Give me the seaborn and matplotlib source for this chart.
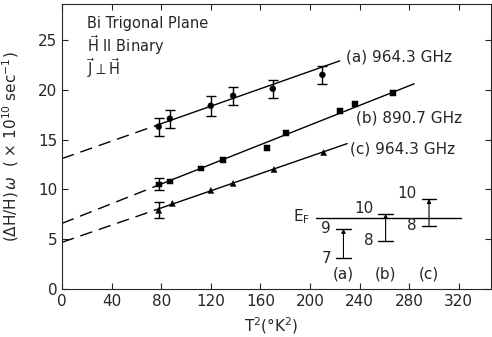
import matplotlib.pyplot as plt
import numpy as np
import pandas as pd
import seaborn as sns

# данные
a_x = [78, 87, 120, 138, 170, 210]
a_y = [16.3, 17.1, 18.4, 19.4, 20.1, 21.5]
a_err = [0.9, 0.9, 1.0, 0.9, 0.9, 0.9]

b_x = [78, 87, 112, 130, 165, 181, 224, 236, 267]
b_y = [10.5, 10.8, 12.1, 13.0, 14.2, 15.7, 17.9, 18.6, 19.7]
b_err = [0.6, 0, 0, 0, 0, 0, 0, 0, 0]

c_x = [78, 89, 120, 138, 171, 211]
c_y = [7.9, 8.6, 9.9, 10.6, 12.0, 13.7]
c_err = [0.8, 0, 0, 0, 0, 0]

# подогнанные прямые: (x начала, x конца штриховой части, x конца, y в 0, y в конце)
fit_a = (0, 76, 224, 13.1, 22.9)
fit_b = (0, 76, 284, 6.6, 20.6)
fit_c = (0, 76, 230, 4.7, 14.6)

labels = ['(a) 964.3 GHz', '(b) 890.7 GHz', '(c) 964.3 GHz']
label_pos = [(229, 23.3), (237, 17.2), (232, 14.1)]

# энергетическая схема
ef_level = 7.15
trans_x = [227, 261, 296]
trans_lo = [3.1, 4.85, 6.35]
trans_hi = [6.05, 7.55, 9.05]
lo_names = ['7', '8', '8']
hi_names = ['9', '10', '10']
trans_names = ['(a)', '(b)', '(c)']

sns.set_theme(style='ticks')
plt.rcParams['font.family'] = ['DejaVu Sans']

fig = plt.figure(figsize=(4.92, 3.37), dpi=100)
ax = fig.add_axes([0.126, 0.142, 0.872, 0.846])

for fit in [fit_a, fit_b, fit_c]:
    x0, xd, x1, y0, y1 = fit
    k = (y1 - y0) / (x1 - x0)
    ax.plot([x0, xd], [y0, y0 + k * xd], color='black', lw=1, dashes=(9, 5))
    ax.plot([xd, x1], [y0 + k * xd, y1], color='black', lw=1)

df = pd.concat([
    pd.DataFrame({'x': a_x, 'y': a_y, 's': 'a'}),
    pd.DataFrame({'x': b_x, 'y': b_y, 's': 'b'}),
    pd.DataFrame({'x': c_x, 'y': c_y, 's': 'c'}),
])
sns.scatterplot(data=df, x='x', y='y', style='s', markers={'a': 'o', 'b': 's', 'c': '^'},
                color='black', s=18, edgecolor='black', legend=False, ax=ax, zorder=3)

for xs, ys, es in [(a_x, a_y, a_err), (b_x, b_y, b_err), (c_x, c_y, c_err)]:
    xs, ys, es = np.array(xs), np.array(ys), np.array(es)
    m = es > 0
    ax.errorbar(xs[m], ys[m], yerr=es[m], fmt='none', ecolor='black', elinewidth=1,
                capsize=3.5, capthick=1)

for lab, (lx, ly) in zip(labels, label_pos):
    ax.text(lx, ly, lab, fontsize=11, ha='left', va='center')

ax.text(20, 26.2, 'Bi Trigonal Plane', fontsize=10.5)
ax.text(20, 23.8, r'$\vec{\mathrm{H}}$ II Binary', fontsize=10.5)
ax.text(20, 21.5, r'$\vec{\mathrm{J}}\perp\vec{\mathrm{H}}$', fontsize=10.5)

# схема уровней
ax.plot([205, 322], [ef_level, ef_level], color='black', lw=1)
ax.text(193, ef_level + 0.1, r'E$_\mathrm{F}$', fontsize=11, ha='center', va='center')
for tx, lo, hi, ln, hn, tn in zip(trans_x, trans_lo, trans_hi, lo_names, hi_names, trans_names):
    ax.plot([tx - 6, tx + 6], [lo, lo], color='black', lw=1)
    ax.plot([tx - 6, tx + 6], [hi, hi], color='black', lw=1)
    ax.annotate('', xy=(tx, hi), xytext=(tx, lo),
                arrowprops=dict(arrowstyle='-|>', color='black', lw=0.8,
                                mutation_scale=6, shrinkA=0, shrinkB=0))
    ax.text(tx - 10, lo, ln, fontsize=11, ha='right', va='center')
    if tn == '(a)':
        ax.text(tx - 10, hi, hn, fontsize=11, ha='right', va='center')
    else:
        ax.text(tx - 10, hi + 0.5, hn, fontsize=11, ha='right', va='center')
    ax.text(tx, 1.5, tn, fontsize=11, ha='center', va='center')

ax.set_xlim(0, 346)
ax.set_ylim(0, 28.6)
ax.set_xticks(np.arange(0, 321, 40))
ax.set_yticks(np.arange(0, 26, 5))
ax.tick_params(direction='in', top=True, right=True, labelsize=11, length=4, width=0.8)
ax.set_xlabel(r'T$^2$($\degree$K$^2$)', fontsize=11, loc='left', labelpad=2)
ax.xaxis.set_label_coords(0.425, -0.09)
ax.set_ylabel(r'($\Delta$H/H)$\,\omega$  ( $\times$ 10$^{10}$ sec$^{-1}$)', fontsize=11)
ax.yaxis.set_label_coords(-0.095, 0.5)
for sp in ax.spines.values():
    sp.set_linewidth(0.8)

fig.savefig('out.png', dpi=100)
